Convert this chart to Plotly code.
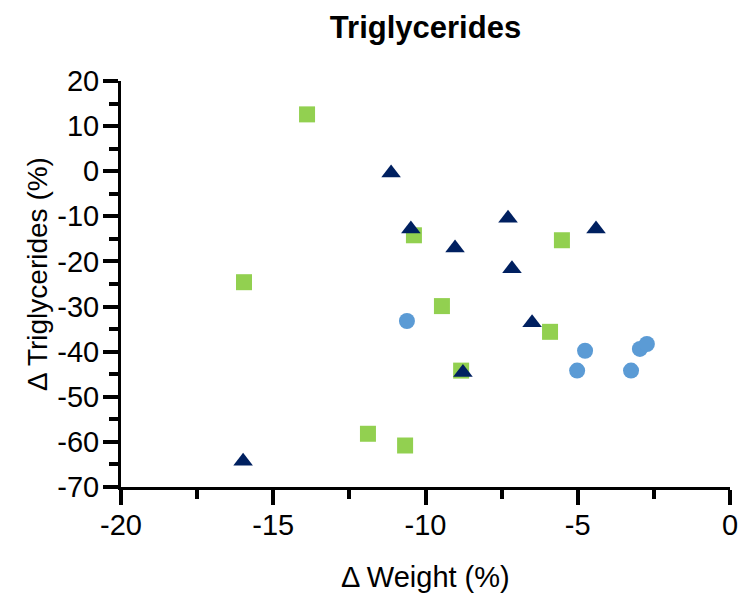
import plotly.graph_objects as go

# Data
green_x = [-13.89, -15.96, -10.38, -9.46, -5.52, -5.91, -8.83, -11.89, -10.67]
green_y = [12.6, -24.6, -14.2, -29.9, -15.3, -35.6, -44.2, -58.2, -60.8]

navy_x = [-11.13, -10.48, -9.03, -7.29, -7.16, -4.40, -6.50, -8.77, -15.99]
navy_y = [-0.4, -12.8, -17.0, -10.4, -21.6, -12.8, -33.6, -44.6, -64.3]

blue_x = [-10.61, -4.76, -5.02, -3.25, -2.96, -2.73]
blue_y = [-33.2, -39.8, -44.2, -44.2, -39.4, -38.3]

x_ticks = [-20, -15, -10, -5, 0]
y_ticks = [20, 10, 0, -10, -20, -30, -40, -50, -60, -70]

FONT = "Liberation Sans Narrow, Arial Narrow, Liberation Sans, Arial, sans-serif"

fig = go.Figure()
fig.add_trace(go.Scatter(x=green_x, y=green_y, mode="markers",
                         marker=dict(symbol="square", size=16, color="#92D050"),
                         showlegend=False))
fig.add_trace(go.Scatter(x=blue_x, y=blue_y, mode="markers",
                         marker=dict(symbol="circle", size=16, color="#5B9BD5"),
                         showlegend=False))
fig.add_trace(go.Scatter(x=navy_x, y=navy_y, mode="markers",
                         marker=dict(symbol="triangle-up", size=17, color="#002060"),
                         showlegend=False))

axis_common = dict(
    showline=True, linecolor="black", linewidth=3,
    ticks="outside", ticklen=15, tickwidth=3.5, tickcolor="black",
    showgrid=False, zeroline=False, automargin=False,
    tickfont=dict(family=FONT, size=29, color="black"),
)

fig.update_xaxes(range=[-20, 0], tickvals=x_ticks, ticktext=[str(v) for v in x_ticks],
                 ticklabelstandoff=-5,
                 minor=dict(ticks="outside", ticklen=9, tickwidth=3.5, tickcolor="black", dtick=2.5, tick0=0, showgrid=False),
                 **axis_common)
fig.update_yaxes(range=[-70, 20], tickvals=y_ticks, ticktext=[str(v) for v in y_ticks],
                 ticklabelstandoff=-2,
                 minor=dict(ticks="outside", ticklen=9, tickwidth=3.5, tickcolor="black", dtick=5, tick0=0, showgrid=False),
                 **axis_common)

fig.update_layout(
    width=740, height=596,
    margin=dict(l=121, r=10, t=81, b=109, autoexpand=False),
    plot_bgcolor="white", paper_bgcolor="white",
    title=dict(text="<b>Triglycerides</b>", x=0.5, xref="paper", y=1 - 27 / 596,
               yref="container", xanchor="center", yanchor="middle",
               font=dict(family=FONT, size=31, color="black")),
    annotations=[
        dict(text="Δ Weight (%)", x=0.5, y=-(577 - 487) / 406, xref="paper", yref="paper",
             xanchor="center", yanchor="middle", showarrow=False,
             font=dict(family=FONT, size=29, color="black")),
        dict(text="Δ Triglycerides (%)", x=(37 - 121) / 609, y=(487 - 274) / 406,
             xref="paper", yref="paper", xanchor="center", yanchor="middle",
             textangle=-90, showarrow=False,
             font=dict(family=FONT, size=28, color="black")),
    ],
)

fig.write_html("out.html")
